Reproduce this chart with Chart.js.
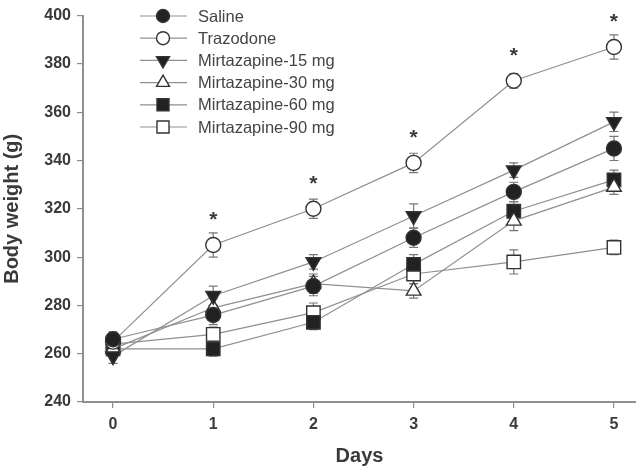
<!DOCTYPE html>
<html>
<head>
<meta charset="utf-8">
<script src="https://cdn.jsdelivr.net/npm/chart.js@4/dist/chart.umd.min.js"></script>
<style>
  html, body { margin: 0; padding: 0; background: #fff; }
  #wrap { width: 636px; height: 468px; }
</style>
</head>
<body>
<div id="wrap"><canvas id="weightChart" width="636" height="468"></canvas></div>
<script>
// Body weight (g) per day
const days = [0, 1, 2, 3, 4, 5];
const yTicks = [240, 260, 280, 300, 320, 340, 360, 380, 400];

const saline    = [266, 276, 288, 308, 327, 345];
const trazodone = [265, 305, 320, 339, 373, 387];
const mirt15    = [259, 284, 298, 317, 336, 356];
const mirt30    = [262, 279, 289, 286, 315, 329];
const mirt60    = [262, 262, 273, 297, 319, 332];
const mirt90    = [264, 268, 277, 293, 298, 304];

// error bars (SEM, g)
const salineErr    = [3, 4, 4, 4, 4, 5];
const trazodoneErr = [3, 5, 4, 4, 3, 5];
const mirt15Err    = [3, 4, 3, 5, 3, 4];
const mirt30Err    = [3, 4, 4, 3, 4, 3];
const mirt60Err    = [3, 3, 3, 4, 4, 4];
const mirt90Err    = [3, 3, 4, 4, 5, 3];

// days with significant difference (marked * above Trazodone)
const starDays = [1, 2, 3, 4, 5];

const FONT = "'Liberation Sans', Arial, sans-serif";
const INK = '#3a3a3a';
const LINE = '#8f8f8f';
const RADIUS = { circle: 7.5, triangle: 8.5, rect: 9.5 };

// the axis runs to the canvas edge, so don't reserve room for marker overflow
Chart.LineController.prototype.getMaxOverflow = function () { return 0; };

function series(label, values, errs, style, filled, rotation) {
    return {
        label: label,
        data: days.map((d, i) => ({ x: d, y: values[i] })),
        errors: errs,
        borderColor: LINE,
        borderWidth: 1.2,
        pointStyle: style,
        pointRotation: rotation || 0,
        pointRadius: RADIUS[style],
        pointBorderWidth: 1.4,
        pointBorderColor: '#333',
        pointBackgroundColor: filled ? '#222' : '#fff',
        pointHoverRadius: RADIUS[style],
        fill: false,
        tension: 0,
        clip: 20
    };
}

const datasets = [
    series('Saline', saline, salineErr, 'circle', true),
    series('Trazodone', trazodone, trazodoneErr, 'circle', false),
    series('Mirtazapine-15 mg', mirt15, mirt15Err, 'triangle', true, 180),
    series('Mirtazapine-30 mg', mirt30, mirt30Err, 'triangle', false),
    series('Mirtazapine-60 mg', mirt60, mirt60Err, 'rect', true),
    series('Mirtazapine-90 mg', mirt90, mirt90Err, 'rect', false)
];

// vertical error bars with caps, under the markers
const errorBars = {
    id: 'errorBars',
    beforeDatasetsDraw(chart) {
        const ctx = chart.ctx;
        const ys = chart.scales.y;
        ctx.save();
        ctx.strokeStyle = '#777';
        ctx.lineWidth = 1.2;
        chart.data.datasets.forEach((ds, di) => {
            const meta = chart.getDatasetMeta(di);
            meta.data.forEach((pt, i) => {
                const v = ds.data[i].y, e = ds.errors[i];
                const top = ys.getPixelForValue(v + e);
                const bot = ys.getPixelForValue(v - e);
                ctx.beginPath();
                ctx.moveTo(pt.x, top); ctx.lineTo(pt.x, bot);
                ctx.moveTo(pt.x - 4.5, top); ctx.lineTo(pt.x + 4.5, top);
                ctx.moveTo(pt.x - 4.5, bot); ctx.lineTo(pt.x + 4.5, bot);
                ctx.stroke();
            });
        });
        ctx.restore();
    }
};

// stars above Trazodone + custom legend (line through marker)
const extras = {
    id: 'extras',
    afterDraw(chart) {
        const ctx = chart.ctx;
        const xs = chart.scales.x, ys = chart.scales.y;
        ctx.save();
        ctx.fillStyle = INK;
        ctx.font = 'bold 21px ' + FONT;
        ctx.textAlign = 'center';
        ctx.textBaseline = 'middle';
        starDays.forEach(d => {
            const i = days.indexOf(d);
            const x = xs.getPixelForValue(d);
            const y = ys.getPixelForValue(trazodone[i]) - 25;
            ctx.fillText('*', x, y);
        });

        const lx0 = 140, lx1 = 187, mx = 163, tx = 198;
        let ly = 16;
        ctx.font = '16.5px ' + FONT;
        ctx.textAlign = 'left';
        chart.data.datasets.forEach(ds => {
            ctx.strokeStyle = LINE;
            ctx.lineWidth = 1.2;
            ctx.beginPath();
            ctx.moveTo(lx0, ly); ctx.lineTo(lx1, ly);
            ctx.stroke();
            ctx.fillStyle = ds.pointBackgroundColor;
            ctx.strokeStyle = ds.pointBorderColor;
            ctx.lineWidth = ds.pointBorderWidth;
            Chart.helpers.drawPoint(ctx, {
                pointStyle: ds.pointStyle,
                rotation: ds.pointRotation,
                radius: RADIUS[ds.pointStyle] - 1,
                borderWidth: ds.pointBorderWidth
            }, mx, ly);
            ctx.fillStyle = '#444';
            ctx.fillText(ds.label, tx, ly + 1);
            ly += 22.2;
        });
        ctx.restore();
    }
};

new Chart(document.getElementById('weightChart'), {
    type: 'line',
    data: { datasets: datasets },
    options: {
        responsive: false,
        animation: false,
        devicePixelRatio: 1,
        layout: { padding: { top: 8, right: 0, left: 0, bottom: 0 } },
        plugins: {
            legend: { display: false },
            tooltip: { enabled: false }
        },
        scales: {
            x: {
                type: 'linear',
                min: -0.3,
                max: 5.22,
                afterBuildTicks: s => { s.ticks = days.map(v => ({ value: v })); },
                afterFit: s => { s.height = 66; s.paddingRight = 0; s.paddingLeft = 0; },
                grid: { display: true, drawOnChartArea: false, drawTicks: true, tickLength: 6, color: LINE, lineWidth: 1.2 },
                border: { display: true, color: LINE, width: 2 },
                ticks: { color: INK, padding: 7, font: { family: FONT, size: 16, weight: 'bold' } },
                title: { display: true, text: 'Days', color: INK, padding: { top: 4, bottom: 0 }, font: { family: FONT, size: 20, weight: 'bold' } }
            },
            y: {
                min: 240,
                max: 400,
                afterBuildTicks: s => { s.ticks = yTicks.map(v => ({ value: v })); },
                afterFit: s => { s.width = 83; },
                grid: { display: true, drawOnChartArea: false, drawTicks: true, tickLength: 6, color: LINE, lineWidth: 1.2 },
                border: { display: true, color: LINE, width: 2 },
                ticks: { color: INK, padding: 6, font: { family: FONT, size: 16, weight: 'bold' } },
                title: { display: true, text: 'Body weight (g)', color: INK, padding: { top: 0, bottom: 4 }, font: { family: FONT, size: 20, weight: 'bold' } }
            }
        }
    },
    plugins: [errorBars, extras]
});
</script>
</body>
</html>
